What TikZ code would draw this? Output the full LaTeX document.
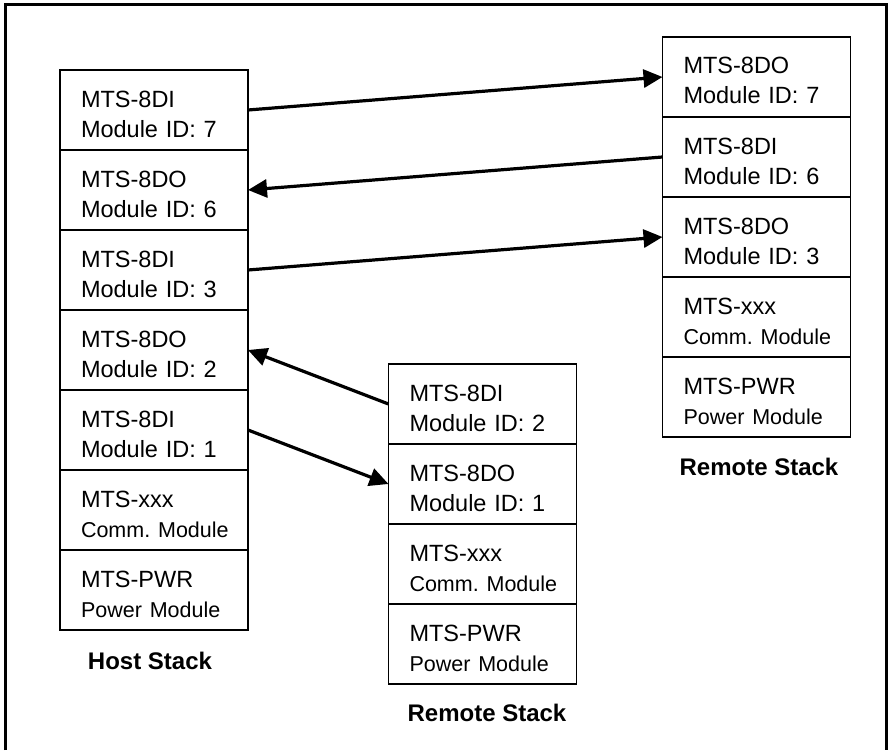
\documentclass[tikz,border=0pt]{standalone}
\usepackage{fontspec}
\setmainfont{Liberation Sans}
\usetikzlibrary{arrows.meta}
\frenchspacing
\NewDocumentCommand\mts{mm}{#1\\#2}
\NewDocumentCommand\mtssub{mm}{#1\\{\fontsize{21.5}{30}\selectfont\mbox{#2}}}

\begin{document}
\begin{tikzpicture}[x=1pt,y=-1pt,>={Triangle[length=19pt,width=18pt]},
    module/.style={draw,line width=1.6pt,outer sep=0pt,minimum width=188pt,minimum height=80pt,
        inner xsep=21pt,text width=146pt,align=left,text height=24pt,text depth=30pt,
        font=\fontsize{23.5}{30}\selectfont\frenchspacing},
    stack/.style={inner sep=0pt,font=\bfseries\fontsize{24}{28}\selectfont},
    link/.style={line width=3.2pt}]
        \fill[white] (0,0) rectangle (888,750);
        \draw[line width=3pt] (5,750) -- (5,5) -- (886,5) -- (886,750);
        % host stack
        \node[module] (h7) at (154,110) {\mts{MTS-8DI}{Module ID: 7}};
        \node[module] (h6) at (154,190) {\mts{MTS-8DO}{Module ID: 6}};
        \node[module] (h3) at (154,270) {\mts{MTS-8DI}{Module ID: 3}};
        \node[module] (h2) at (154,350) {\mts{MTS-8DO}{Module ID: 2}};
        \node[module] (h1) at (154,430) {\mts{MTS-8DI}{Module ID: 1}};
        \node[module] (hcom) at (154,510) {\mtssub{MTS-xxx}{Comm. Module}};
        \node[module] (hpwr) at (154,590) {\mtssub{MTS-PWR}{Power Module}};
        \node[stack] (hlabel) at (150,661) {Host Stack};
        % remote stack, right
        \node[module] (r7) at (756.5,77) {\mts{MTS-8DO}{Module ID: 7}};
        \node[module] (r6) at (756.5,157) {\mts{MTS-8DI}{Module ID: 6}};
        \node[module] (r3) at (756.5,237) {\mts{MTS-8DO}{Module ID: 3}};
        \node[module] (rcom) at (756.5,317) {\mtssub{MTS-xxx}{Comm. Module}};
        \node[module] (rpwr) at (756.5,397) {\mtssub{MTS-PWR}{Power Module}};
        \node[stack] (rlabel) at (759,467) {Remote Stack};
        % remote stack, middle
        \node[module] (m2) at (482.5,404) {\mts{MTS-8DI}{Module ID: 2}};
        \node[module] (m1) at (482.5,484) {\mts{MTS-8DO}{Module ID: 1}};
        \node[module] (mcom) at (482.5,564) {\mtssub{MTS-xxx}{Comm. Module}};
        \node[module] (mpwr) at (482.5,644) {\mtssub{MTS-PWR}{Power Module}};
        \node[stack] (mlabel) at (487,713) {Remote Stack};
        % links
        \draw[->,link] (h7.east) -- (r7.west);
        \draw[->,link] (r6.west) -- (h6.east);
        \draw[->,link] (h3.east) -- (r3.west);
        \draw[->,link] (m2.west) -- (h2.east);
        \draw[->,link] (h1.east) -- (m1.west);
    \end{tikzpicture}
\end{document}
